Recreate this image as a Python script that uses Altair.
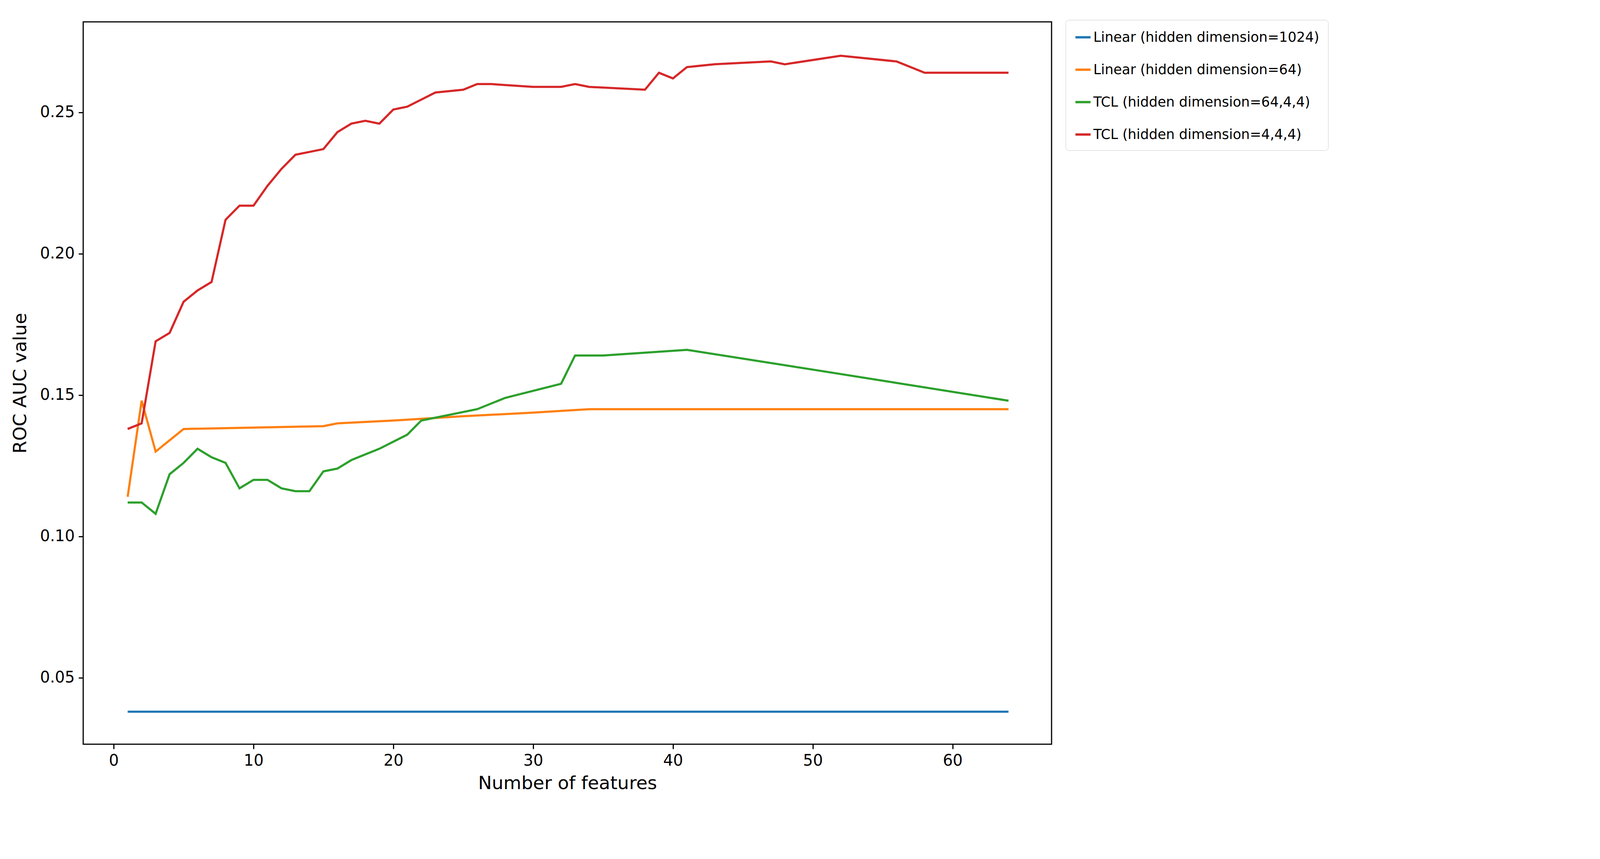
import altair as alt
import pandas as pd

names = ["Linear (hidden dimension=1024)", "Linear (hidden dimension=64)",
         "TCL (hidden dimension=64,4,4)", "TCL (hidden dimension=4,4,4)"]
colors = ["#1f77b4", "#ff7f0e", "#2ca02c", "#d62728"]

blue_x = [1, 64]
blue_y = [0.038, 0.038]

orange_x = [1, 2, 3, 4, 5, 15, 16, 20, 25, 30, 34, 64]
orange_y = [0.114, 0.148, 0.130, 0.134, 0.138, 0.139, 0.140, 0.141, 0.1425, 0.1438, 0.145, 0.145]

green_x = [1, 2, 3, 4, 5, 6, 7, 8, 9, 10, 11, 12, 13, 14, 15, 16, 17, 19, 21, 22, 26, 28, 32, 33, 35, 41, 50, 64]
green_y = [0.112, 0.112, 0.108, 0.122, 0.126, 0.131, 0.128, 0.126, 0.117, 0.120, 0.120, 0.117, 0.116, 0.116,
           0.123, 0.124, 0.127, 0.131, 0.136, 0.141, 0.145, 0.149, 0.154, 0.164, 0.164, 0.166, 0.159, 0.148]

red_x = [1, 2, 3, 4, 5, 6, 7, 8, 9, 10, 11, 12, 13, 14, 15, 16, 17, 18, 19, 20, 21, 22, 23, 25, 26, 27, 30,
         32, 33, 34, 38, 39, 40, 41, 43, 47, 48, 52, 56, 58, 64]
red_y = [0.138, 0.140, 0.169, 0.172, 0.183, 0.187, 0.190, 0.212, 0.217, 0.217, 0.224, 0.230, 0.235, 0.236,
         0.237, 0.243, 0.246, 0.247, 0.246, 0.251, 0.252, 0.2545, 0.257, 0.258, 0.260, 0.260, 0.259, 0.259,
         0.260, 0.259, 0.258, 0.264, 0.262, 0.266, 0.267, 0.268, 0.267, 0.270, 0.268, 0.264, 0.264]

rows = []
for n, xs, ys in zip(names, [blue_x, orange_x, green_x, red_x], [blue_y, orange_y, green_y, red_y]):
    for i, (a, b) in enumerate(zip(xs, ys)):
        rows.append({"series": n, "x": a, "y": b, "o": i})
df = pd.DataFrame(rows)

chart = alt.Chart(df).mark_line(strokeWidth=5.5, clip=True).encode(
    x=alt.X("x:Q", title="Number of features", scale=alt.Scale(domain=[-2.18, 67.08], nice=False, zero=False),
            axis=alt.Axis(values=[0, 10, 20, 30, 40, 50, 60], format="d", grid=False)),
    y=alt.Y("y:Q", title="ROC AUC value", scale=alt.Scale(domain=[0.0265, 0.282], nice=False, zero=False),
            axis=alt.Axis(values=[0.05, 0.10, 0.15, 0.20, 0.25], format=".2f", grid=False)),
    color=alt.Color("series:N", scale=alt.Scale(domain=names, range=colors), sort=names,
                    legend=alt.Legend(title=None, orient="none", legendX=2515, legendY=-5,
                                      symbolType="stroke", symbolStrokeWidth=6, symbolSize=1500,
                                      labelFontSize=35, labelFont="DejaVu Sans", rowPadding=42,
                                      padding=22, strokeColor="#cccccc", cornerRadius=8,
                                      fillColor="white", labelLimit=1400, symbolOffset=0)),
    order="o:Q",
).properties(width=2479, height=1850, padding={"left": 20, "top": 42, "right": 10, "bottom": 10}).configure_view(
    stroke="black", strokeWidth=3
).configure_axis(
    domain=False, tickColor="black", tickWidth=3, tickSize=12, labelFontSize=40, titleFontSize=47,
    labelFont="DejaVu Sans", titleFont="DejaVu Sans", labelColor="black", titleColor="black",
    titleFontWeight="normal", labelPadding=10
).configure_axisX(titlePadding=15).configure_axisY(titlePadding=25)

chart.save("out.html", embed_options={"renderer": "svg", "actions": False})
